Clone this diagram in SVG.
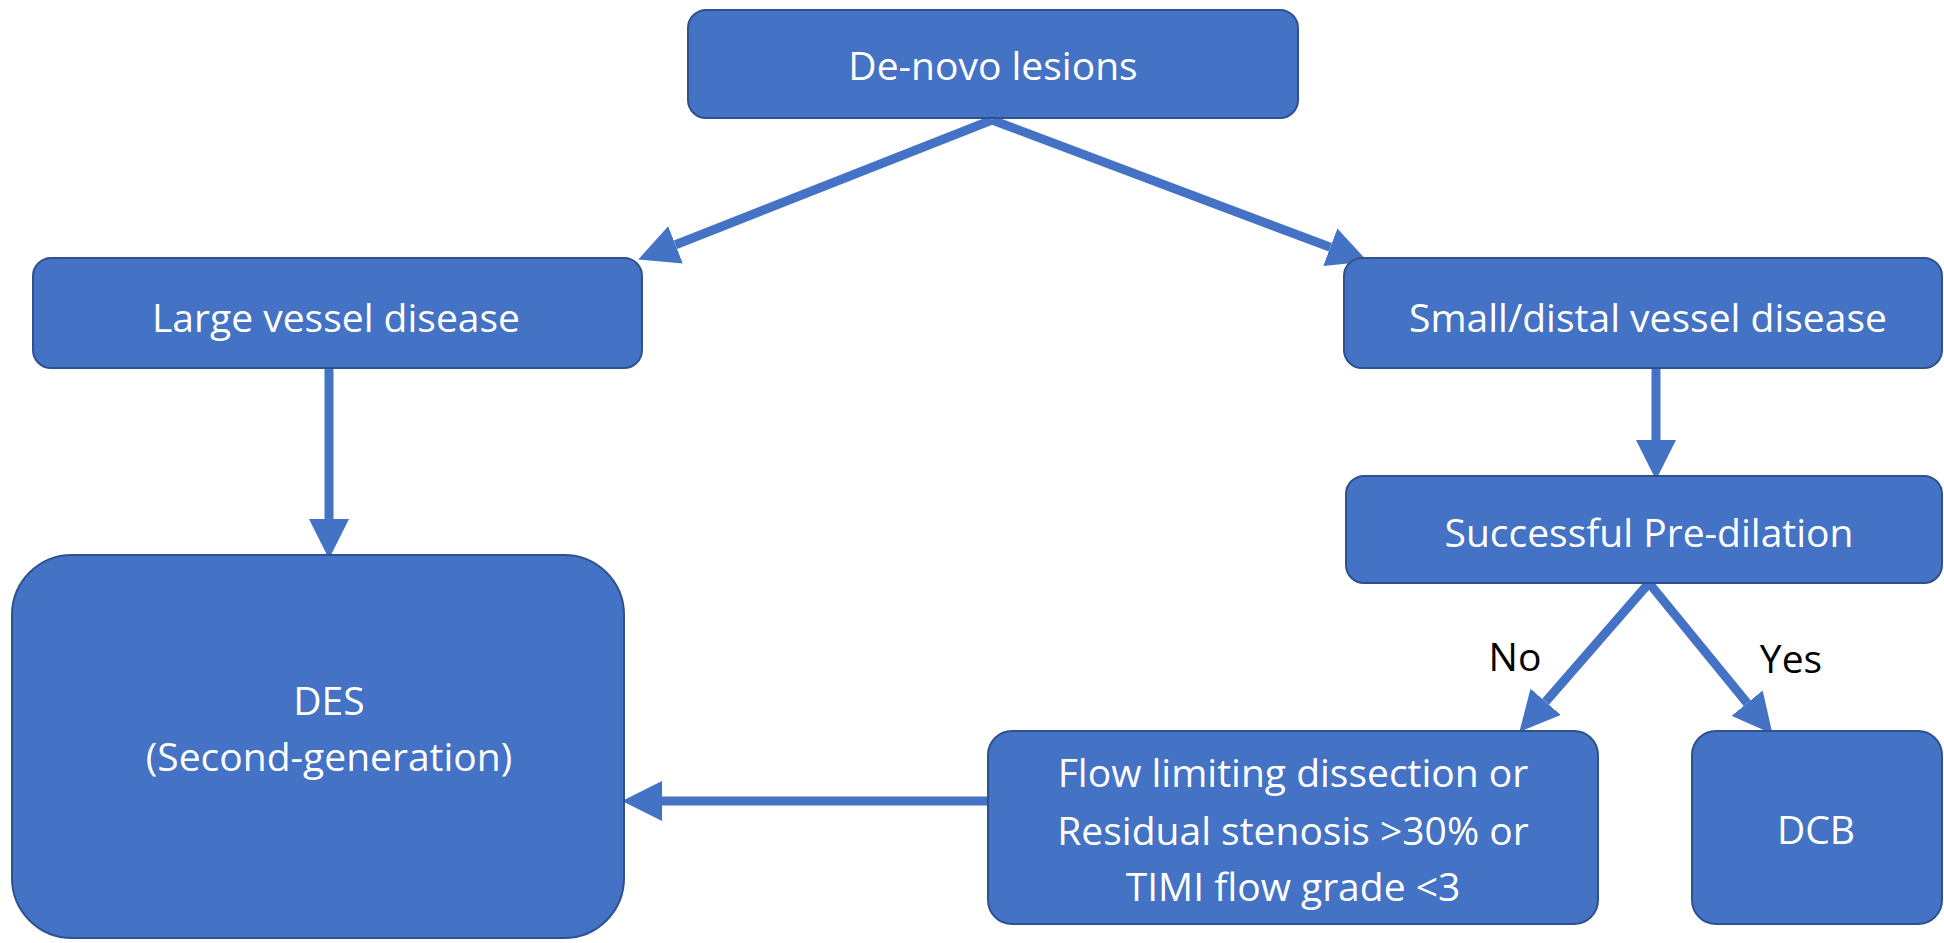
<svg xmlns="http://www.w3.org/2000/svg" width="1944" height="943" viewBox="0 0 1944 943">
<defs>
<style>
.box{fill:#4472C4;stroke:#2F528F;stroke-width:2}
.t{font-family:"Open Sans","Lato","Liberation Sans",sans-serif;font-size:39px;fill:#ffffff;text-anchor:middle;dominant-baseline:central}
.lbl{font-family:"Open Sans","Lato","Liberation Sans",sans-serif;font-size:39px;fill:#000000;text-anchor:middle;dominant-baseline:central}
.c{stroke:#4472C4;stroke-width:9;fill:none;marker-end:url(#ah)}
</style>
<marker id="ah" markerUnits="userSpaceOnUse" markerWidth="40" markerHeight="40" viewBox="0 0 36 36" refX="0" refY="18" orient="auto">
<path d="M0,0 L36,18 L0,36 z" fill="#4472C4"/>
</marker>
</defs>
<rect width="1944" height="943" fill="#ffffff"/>
<g id="connectors">
<line class="c" x1="992" y1="120" x2="675.5" y2="244.8"/>
<line class="c" x1="992" y1="120" x2="1330.3" y2="247.3"/>
<line class="c" x1="329" y1="368" x2="329" y2="519"/>
<line class="c" x1="1656" y1="368" x2="1656" y2="440"/>
<line class="c" x1="1649" y1="583" x2="1545.6" y2="701.8"/>
<line class="c" x1="1649" y1="583" x2="1747.2" y2="703.1"/>
<line class="c" x1="988" y1="801" x2="662" y2="801"/>
<text class="lbl" x="1515" y="655">No</text>
<text class="lbl" x="1791" y="657">Yes</text>
</g>
<g id="denovo"><rect class="box" x="688" y="10" width="610" height="108" rx="18"/><text class="t" x="993" y="64">De-novo lesions</text></g>
<g id="large"><rect class="box" x="33" y="258" width="609" height="110" rx="18"/><text class="t" x="336" y="316">Large vessel disease</text></g>
<g id="small"><rect class="box" x="1344" y="258" width="598" height="110" rx="18"/><text class="t" x="1648" y="316">Small/distal vessel disease</text></g>
<g id="predil"><rect class="box" x="1346" y="476" width="596" height="107" rx="18"/><text class="t" x="1649" y="531">Successful Pre-dilation</text></g>
<g id="des"><rect class="box" x="12" y="555" width="612" height="383" rx="60"/><text class="t" x="329" y="699">DES</text><text class="t" x="329" y="755">(Second-generation)</text></g>
<g id="flow"><rect class="box" x="988" y="731" width="610" height="193" rx="24"/><text class="t" x="1293" y="771">Flow limiting dissection or</text><text class="t" x="1293" y="829">Residual stenosis &gt;30% or</text><text class="t" x="1293" y="885">TIMI flow grade &lt;3</text></g>
<g id="dcb"><rect class="box" x="1692" y="731" width="250" height="193" rx="24"/><text class="t" x="1816" y="828">DCB</text></g>
</svg>
